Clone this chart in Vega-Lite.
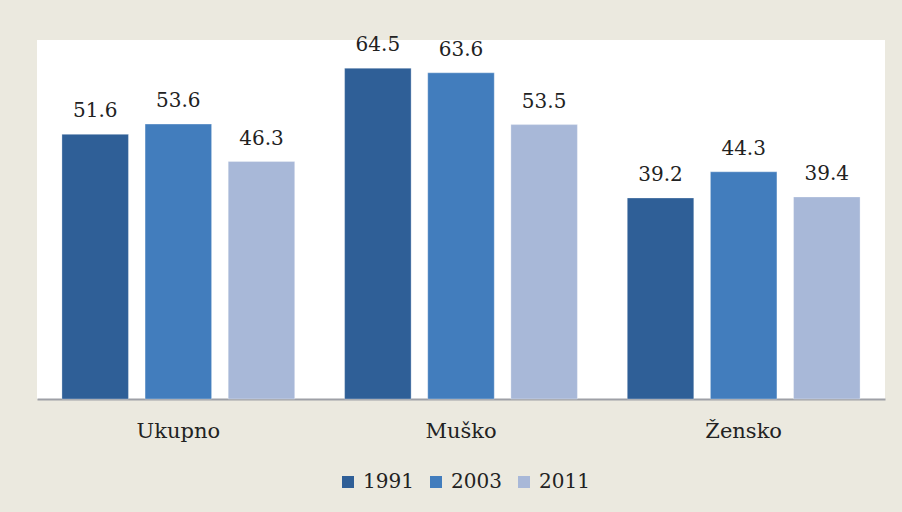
{
  "$schema": "https://vega.github.io/schema/vega-lite/v6.json",
  "width": 848,
  "height": 359,
  "autosize": {"type": "none"},
  "padding": {"left": 37, "top": 40, "right": 17, "bottom": 113},
  "background": "#EBE9DF",
  "config": {
    "view": {"fill": "#FFFFFF", "stroke": null},
    "font": "DejaVu Serif"
  },
  "data": {
    "values": [
      {"kategorija": "Ukupno", "godina": "1991", "vrijednost": 51.6},
      {"kategorija": "Ukupno", "godina": "2003", "vrijednost": 53.6},
      {"kategorija": "Ukupno", "godina": "2011", "vrijednost": 46.3},
      {"kategorija": "Muško", "godina": "1991", "vrijednost": 64.5},
      {"kategorija": "Muško", "godina": "2003", "vrijednost": 63.6},
      {"kategorija": "Muško", "godina": "2011", "vrijednost": 53.5},
      {"kategorija": "Žensko", "godina": "1991", "vrijednost": 39.2},
      {"kategorija": "Žensko", "godina": "2003", "vrijednost": 44.3},
      {"kategorija": "Žensko", "godina": "2011", "vrijednost": 39.4}
    ]
  },
  "encoding": {
    "x": {
      "field": "kategorija",
      "type": "nominal",
      "sort": ["Ukupno", "Muško", "Žensko"],
      "scale": {"paddingInner": 0, "paddingOuter": 0},
      "axis": {
        "title": null,
        "labelAngle": 0,
        "ticks": false,
        "domainColor": "#9EA0A6",
        "domainWidth": 2,
        "labelFont": "DejaVu Serif",
        "labelFontSize": 21,
        "labelColor": "#222222",
        "labelBaseline": "alphabetic",
        "labelPadding": 38
      }
    },
    "xOffset": {
      "field": "godina",
      "type": "nominal",
      "scale": {"paddingInner": 0.2, "paddingOuter": 0.3}
    },
    "y": {
      "field": "vrijednost",
      "type": "quantitative",
      "scale": {"domain": [0, 70], "nice": false},
      "axis": null
    }
  },
  "layer": [
    {
      "mark": {"type": "bar", "stroke": "#FFFFFF", "strokeOpacity": 0.3, "strokeWidth": 1},
      "encoding": {
        "color": {
          "field": "godina",
          "type": "nominal",
          "scale": {"domain": ["1991", "2003", "2011"], "range": ["#2F5F97", "#427DBD", "#A8B8D8"]},
          "legend": {
            "title": null,
            "orient": "none",
            "direction": "horizontal",
            "padding": 0,
            "legendX": 301,
            "legendY": 432,
            "symbolType": "square",
            "symbolSize": 144,
            "symbolStrokeWidth": 0,
            "symbolOpacity": 1,
            "labelFont": "DejaVu Serif",
            "labelFontSize": 20,
            "labelColor": "#222222",
            "labelOffset": 5,
            "columnPadding": 12
          }
        }
      }
    },
    {
      "mark": {"type": "text", "baseline": "alphabetic", "dy": -17, "font": "DejaVu Serif", "fontSize": 20, "color": "#222222"},
      "encoding": {
        "text": {"field": "vrijednost", "type": "quantitative", "format": ".1f"}
      }
    }
  ]
}
